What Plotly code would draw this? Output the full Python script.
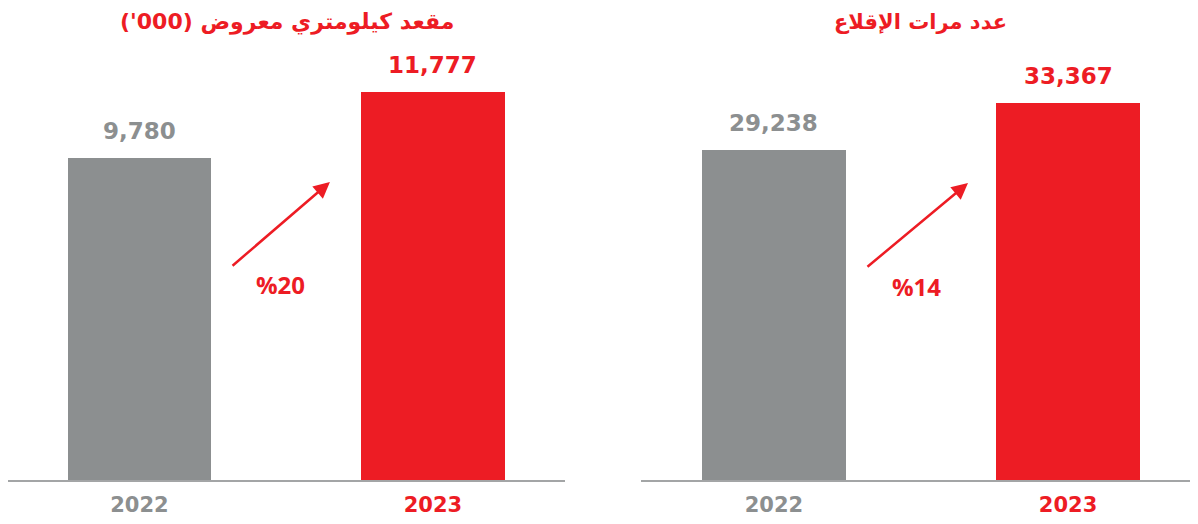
import plotly.graph_objects as go

# ---- data ----
years = ["2022", "2023"]
ask_values = [9780, 11777]          # مقعد كيلومتري معروض ('000)
departures_values = [29238, 33367]  # عدد مرات الإقلاع
ask_growth = "%20"
dep_growth = "%14"
titles = ["مقعد كيلومتري معروض (000')", "عدد مرات الإقلاع"]

GREY = "#8c8f90"
RED = "#ed1c24"
bar_colors = [GREY, RED]
NUM_FONT = "Open Sans"
WIDE_FONT = "DejaVu Sans"
AR_FONT = "DejaVu Sans"

W, H = 1198, 524

fig = go.Figure()

panels = [
    dict(vals=ask_values, xa="x", ya="y", xd=[0.0, 557/W], xr=[-0.448, 1.45], yr=[0, 13362],
         title_x=279/W, title_size=22, growth=ask_growth,
         arrow=[(0.312, 6468), (0.649, 9050)], pct=(0.482, 5952)),
    dict(vals=departures_values, xa="x2", ya="y2", xd=[633/W, 1190/W], xr=[-0.452, 1.442], yr=[0, 38962],
         title_x=912/W, title_size=21, growth=dep_growth,
         arrow=[(0.313, 18773), (0.66, 26300)], pct=(0.486, 17179)),
]

layout = dict(
    width=W, height=H,
    margin=dict(l=0, r=0, t=32, b=52),
    paper_bgcolor="white", plot_bgcolor="white",
    showlegend=False,
    bargap=0,
)

annotations = []
for i, p in enumerate(panels):
    fig.add_trace(go.Bar(
        x=[0, 1], y=p["vals"], width=0.488,
        marker=dict(color=bar_colors, line=dict(width=0)),
        xaxis=p["xa"], yaxis=p["ya"], hoverinfo="skip",
    ))
    suffix = "" if i == 0 else "2"
    layout["xaxis" + suffix] = dict(
        domain=p["xd"], range=p["xr"], anchor=p["ya"],
        tickvals=[0, 1],
        ticktext=[f"<span style='color:{GREY}'>{years[0]}</span>",
                  f"<span style='color:{RED}'>{years[1]}</span>"],
        tickfont=dict(family=WIDE_FONT, size=21, color=GREY, weight="bold"),
        showline=True, linecolor="#a3a5a6", linewidth=1.5,
        showgrid=False, zeroline=False, ticks="", ticklabelstandoff=5,
    )
    layout["yaxis" + suffix] = dict(
        domain=[0, 1], range=p["yr"], anchor=p["xa"],
        visible=False, showgrid=False, zeroline=False,
    )
    # value labels
    for j, v in enumerate(p["vals"]):
        annotations.append(dict(
            x=j, y=v, xref=p["xa"], yref=p["ya"], text=f"{v:,}",
            showarrow=False, yanchor="bottom", yshift=12,
            font=dict(family=WIDE_FONT, size=23, color=bar_colors[j], weight="bold"),
        ))
    # title
    annotations.append(dict(
        x=p["title_x"], y=1.041, xref="paper", yref="paper", text=titles[i],
        showarrow=False, xanchor="center", yanchor="middle",
        font=dict(family=AR_FONT, size=p["title_size"], color=RED, weight="bold"),
    ))
    # arrow
    (tx, ty), (hx, hy) = p["arrow"]
    annotations.append(dict(
        x=hx, y=hy, ax=tx, ay=ty, xref=p["xa"], yref=p["ya"], axref=p["xa"], ayref=p["ya"],
        text="", showarrow=True, arrowhead=2, arrowsize=1.3, arrowwidth=2.5, arrowcolor=RED,
    ))
    # growth label
    annotations.append(dict(
        x=p["pct"][0], y=p["pct"][1], xref=p["xa"], yref=p["ya"], text=p["growth"],
        showarrow=False, xanchor="center", yanchor="middle",
        font=dict(family=NUM_FONT, size=24, color=RED, weight="bold"),
    ))

layout["annotations"] = annotations
fig.update_layout(**layout)
fig.write_html("out.html")
